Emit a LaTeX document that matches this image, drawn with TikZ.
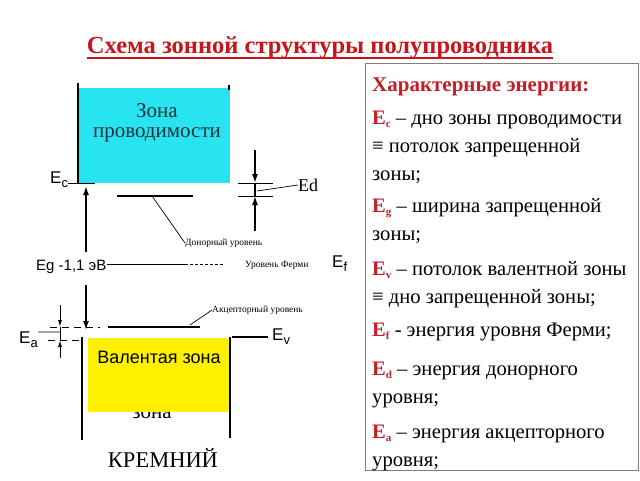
\documentclass[tikz,border=0pt]{standalone}
\usepackage{fontspec}
\setmainfont{Liberation Serif}
\newfontfamily\arialf{Liberation Sans}
\usetikzlibrary{arrows.meta}
\definecolor{titlered}{RGB}{200,20,28}
\definecolor{boxred}{RGB}{196,30,40}
\definecolor{cyanband}{RGB}{40,228,240}
\definecolor{yellowband}{RGB}{255,240,0}
\definecolor{darkteal}{RGB}{30,50,55}
\newcommand{\fsz}[1]{\fontsize{#1}{#1}\selectfont}
\newcommand{\Esub}[1]{{\color{boxred}\bfseries E\raisebox{-3pt}{\fsz{11}#1}}}
\newcommand{\Lsub}[1]{E\raisebox{-4pt}{\fsz{13}#1}}
\tikzset{
  boxtext/.style={anchor=base west, inner sep=0pt, font=\fsz{20.6}},
  small/.style={anchor=west, inner sep=0pt, font=\fsz{9.5}},
  elabel/.style={anchor=west, inner sep=0pt, font=\arialf\fsz{17}},
  level/.style={line width=1.6pt},
  arr/.style={line width=1.5pt, -{Latex[length=9pt,width=6pt]}},
  thinl/.style={line width=0.7pt}
}
\begin{document}
\begin{tikzpicture}[x=1pt,y=-1pt]
\useasboundingbox (0,0) rectangle (640,480);
% title
\node[anchor=base, inner sep=0pt, font=\bfseries\fsz{24.5}, text=titlered] (title) at (320,53) {Схема зонной структуры полупроводника};
\draw[titlered, line width=1.8pt] ([yshift=-5pt]title.base west) -- ([yshift=-5pt]title.base east);
% right box
\draw[gray, line width=0.8pt] (365,63) rectangle (638,470);
\node[boxtext, font=\bfseries\fsz{21}, text=boxred] (h) at (372,91) {Характерные энергии:};
\node[boxtext] (l1) at (372,124) {\Esub{c} – дно зоны проводимости};
\node[boxtext] (l2) at (372,152) {≡ потолок запрещенной};
\node[boxtext] (l3) at (372,180) {зоны;};
\node[boxtext] (l4) at (372,212) {\Esub{g} – ширина запрещенной};
\node[boxtext] (l5) at (372,240) {зоны;};
\node[boxtext] (l6) at (372,275) {\Esub{v} – потолок валентной зоны};
\node[boxtext] (l7) at (372,303) {≡ дно запрещенной зоны;};
\node[boxtext] (l8) at (372,336) {\Esub{f} - энергия уровня Ферми;};
\node[boxtext] (l9) at (372,375) {\Esub{d} – энергия донорного};
\node[boxtext] (l10) at (372,403) {уровня;};
\node[boxtext] (l11) at (372,438) {\Esub{a} – энергия акцепторного};
\node[boxtext] (l12) at (372,466) {уровня;};
% conduction band
\fill[cyanband] (78,88) rectangle (230,183);
\draw[line width=2.5pt] (78,83) -- (78,183);
\draw[line width=2pt] (229,85) -- (229,90);
\node[inner sep=0pt, font=\fsz{21}, text=darkteal] (cb1) at (157,111) {Зона};
\node[inner sep=0pt, font=\fsz{21}, text=darkteal] (cb2) at (157,135) {проводимости};
% Ec
\node[elabel] (ec) at (50,180) {\Lsub{c}};
\coordinate (ecend) at (95,183);
\draw[thinl] (ec.east |- ecend) -- (ecend);
% gap arrows
\coordinate (gtop) at (86,186);
\coordinate (gup) at (86,252);
\coordinate (gdn) at (86,285);
\coordinate (gbot) at (86,330);
\draw[arr] (gup) -- (gtop);
\draw[arr] (gdn) -- (gbot);
\node[anchor=base west, inner sep=0pt, font=\arialf\fsz{15}] (eg) at (36,270) {Eg -1,1 эВ};
% Fermi level
\coordinate (f1) at (110,264);
\coordinate (f2) at (185,264);
\coordinate (f3) at (225,264);
\draw[thinl] (eg.east |- f1) -- (f2);
\draw[thinl, dash pattern=on 3pt off 2pt] (f2) -- (f3);
\node[small] (fermi) at (245,265) {Уровень Ферми};
\node[elabel] (ef) at (332,264) {\Lsub{f}};
% donor level
\coordinate (d1) at (117,196);
\coordinate (d2) at (193,196);
\draw[level] (d1) -- (d2);
\node[small] (donor) at (185,243) {Донорный уровень};
\draw[thinl] (152,196) -- (donor.west);
% Ed marker
\coordinate (edt) at (255,150);
\coordinate (ed1) at (255,183);
\coordinate (ed2) at (255,196);
\coordinate (edb) at (255,231);
\draw[arr] (edt) -- (ed1);
\draw[arr] (edb) -- (ed2);
\draw[line width=1.2pt] (ed1) -- (ed2);
\draw[thinl] (238,183) -- (273,183);
\draw[thinl] (238,196) -- (273,196);
\node[anchor=west, inner sep=0pt, font=\fsz{18}] (ed) at (298,185) {Ed};
\draw[thinl] (257,191) -- (ed.west);
% Ev
\coordinate (ev1) at (232,337);
\draw[level] (ev1) -- (268,337);
\node[elabel] (ev) at (272,337) {\Lsub{v}};
% acceptor level
\coordinate (a0) at (50,327);
\coordinate (a1) at (100,327);
\coordinate (a2) at (108,327);
\coordinate (a3) at (200,327);
\draw[thinl, dash pattern=on 7pt off 5pt] (a0) -- (a1);
\draw[level] (a2) -- (a3);
\node[small] (acc) at (212,310) {Акцепторный уровень};
\draw[thinl] (190,325) -- (acc.west);
% Ea marker
\coordinate (eat) at (60,305);
\coordinate (ea1) at (60,327);
\coordinate (ea2) at (60,340);
\coordinate (eab) at (60,358);
\draw[line width=1pt, -{Latex[length=7pt,width=4pt]}] (eat) -- (ea1);
\draw[line width=1pt, -{Latex[length=7pt,width=4pt]}] (eab) -- (ea2);
\draw[thinl] (ea1) -- (ea2);
\draw[thinl, dash pattern=on 7pt off 5pt] (48,340) -- (80,340);
\node[elabel] (ea) at (19,340) {\Lsub{a}};
\draw[thinl] (ea.north east) -- (60,332);
% valence band
\node[inner sep=0pt, anchor=base, font=\fsz{21}] (zona) at (152,418) {зона};
\fill[yellowband] (88,338) rectangle (230,412);
\draw[line width=2.5pt] (82,337) -- (82,440);
\draw[line width=1.6pt] (230,337) -- (230,438);
\node[inner sep=0pt, font=\arialf\fsz{18}] (vb) at (159,357) {Валентая зона};
\node[inner sep=0pt, font=\fsz{22.5}] (si) at (163,458) {КРЕМНИЙ};
\end{tikzpicture}
\end{document}
